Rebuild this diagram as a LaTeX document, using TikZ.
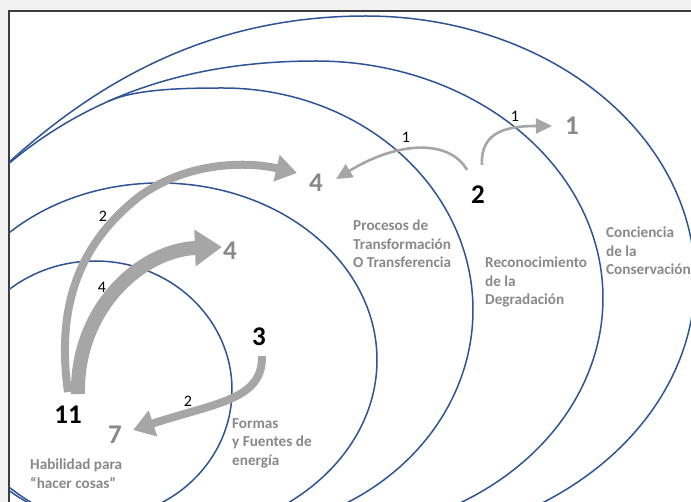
\documentclass[tikz,border=0pt]{standalone}
\usepackage{fontspec}
\setmainfont{Carlito}
\usetikzlibrary{arrows.meta}
\definecolor{ringblue}{RGB}{47,84,150}
\definecolor{arrowgray}{RGB}{166,166,166}
\definecolor{labelgray}{RGB}{137,137,137}
\definecolor{framegray}{RGB}{60,60,60}
\definecolor{pagegray}{RGB}{242,242,242}
\begin{document}
\begin{tikzpicture}[x=1pt,y=-1pt,
 ring/.style={draw=ringblue,line width=1.5pt},
 zone/.style={text=labelgray,font=\fontsize{15.2}{18.5}\selectfont\bfseries,align=left,anchor=base west,inner sep=0pt},
 bignum/.style={font=\fontsize{27}{27}\selectfont\bfseries,inner sep=0pt},
 gnum/.style={bignum,text=labelgray},
 knum/.style={bignum,text=black},
 cnt/.style={font=\fontsize{16}{16}\selectfont,inner sep=0pt,text=black},
 flowthin/.style={draw=arrowgray,line width=2.6pt,-{Triangle[length=16pt,width=15pt]}},
 flowmid/.style={draw=arrowgray,line width=8pt,-{Triangle[length=21pt,width=26pt]}},
 flowwide/.style={draw=arrowgray,line width=14pt,-{Triangle[length=27pt,width=35pt]}},
]
\useasboundingbox (0,0) rectangle (691,502);
\fill[pagegray] (0,0) rectangle (691,502);
\fill[white] (9,11) rectangle (691,502);
\draw[framegray,line width=1.2pt] (691,11) -- (9,11) -- (9,502);

\begin{scope}
\clip (9,11) rectangle (691,502);
\draw[ring] (-20,190) .. controls (80,90) and (200,16) .. (366,16)
  -- plot[domain=270:425,samples=90,smooth] ({366+329*cos(\x)},{280+264*sin(\x)});
\draw[ring] (-20,190) .. controls (80,90) and (200,61) .. (316,61)
  -- plot[domain=270:430,samples=90,smooth] ({316+287*cos(\x)},{298+237*sin(\x)});
\draw[ring] (108,101.4) .. controls (135.4,89.2) and (180,88) .. (223,88)
  -- plot[domain=270:430,samples=90,smooth] ({223+250*cos(\x)},{310+222*sin(\x)});
\draw[ring] (160,360) ellipse [x radius=217pt, y radius=177pt];
\draw[ring] (95,390) ellipse [x radius=137pt, y radius=129pt];
\end{scope}

% zone labels (anchor = baseline of the last line)
\node[zone] (zhab) at (30,488) {Habilidad para\\“hacer cosas”};
\node[zone] (zfor) at (232,465) {Formas\\y Fuentes de\\energía};
\node[zone] (zpro) at (353,268) {Procesos de\\Transformación\\O Transferencia};
\node[zone] (zrec) at (485,305) {Reconocimiento\\de la\\Degradación};
\node[zone] (zcon) at (606,275) {Conciencia\\de la\\Conservación};

% numbers
\node[gnum] (n1) at (572,126) {1};
\node[knum] (n2) at (478,195) {2};
\node[gnum] (n4a) at (316,183) {4};
\node[gnum] (n4b) at (230,251) {4};
\node[knum] (n3) at (259,337) {3};
\node[knum] (n11) at (68,415) {11};
\node[gnum] (n7) at (115,435) {7};

% connectors
\draw[flowthin] ([shift={(-11,-16)}]n2.north) .. controls (450,140) and (400,140) .. ([shift={(13,-4)}]n4a.east);
\draw[flowthin] ([shift={(4,-21)}]n2.north) .. controls (480,130) and (510,126) .. ([shift={(-13,0)}]n1.west);
\draw[flowmid] ([shift={(0,-14)}]n11.north) .. controls (58,320) and (70,250) .. (140,196)
  .. controls (190,160) and (250,162) .. ([shift={(-12,-10)}]n4a.west);
\draw[flowwide] ([shift={(10,-12)}]n11.north) .. controls (76,310) and (140,250) .. ([shift={(-1,-4)}]n4b.west);
\draw[flowmid] ([shift={(3,10)}]n3.south) .. controls (263,400) and (215,403) .. ([shift={(11,-5)}]n7.east);

% counts
\node[cnt] (c1) at (406,137) {1};
\node[cnt] (c2) at (515,116) {1};
\node[cnt] (c3) at (103,216) {2};
\node[cnt] (c4) at (102,287) {4};
\node[cnt] (c5) at (188,401) {2};
\end{tikzpicture}
\end{document}
